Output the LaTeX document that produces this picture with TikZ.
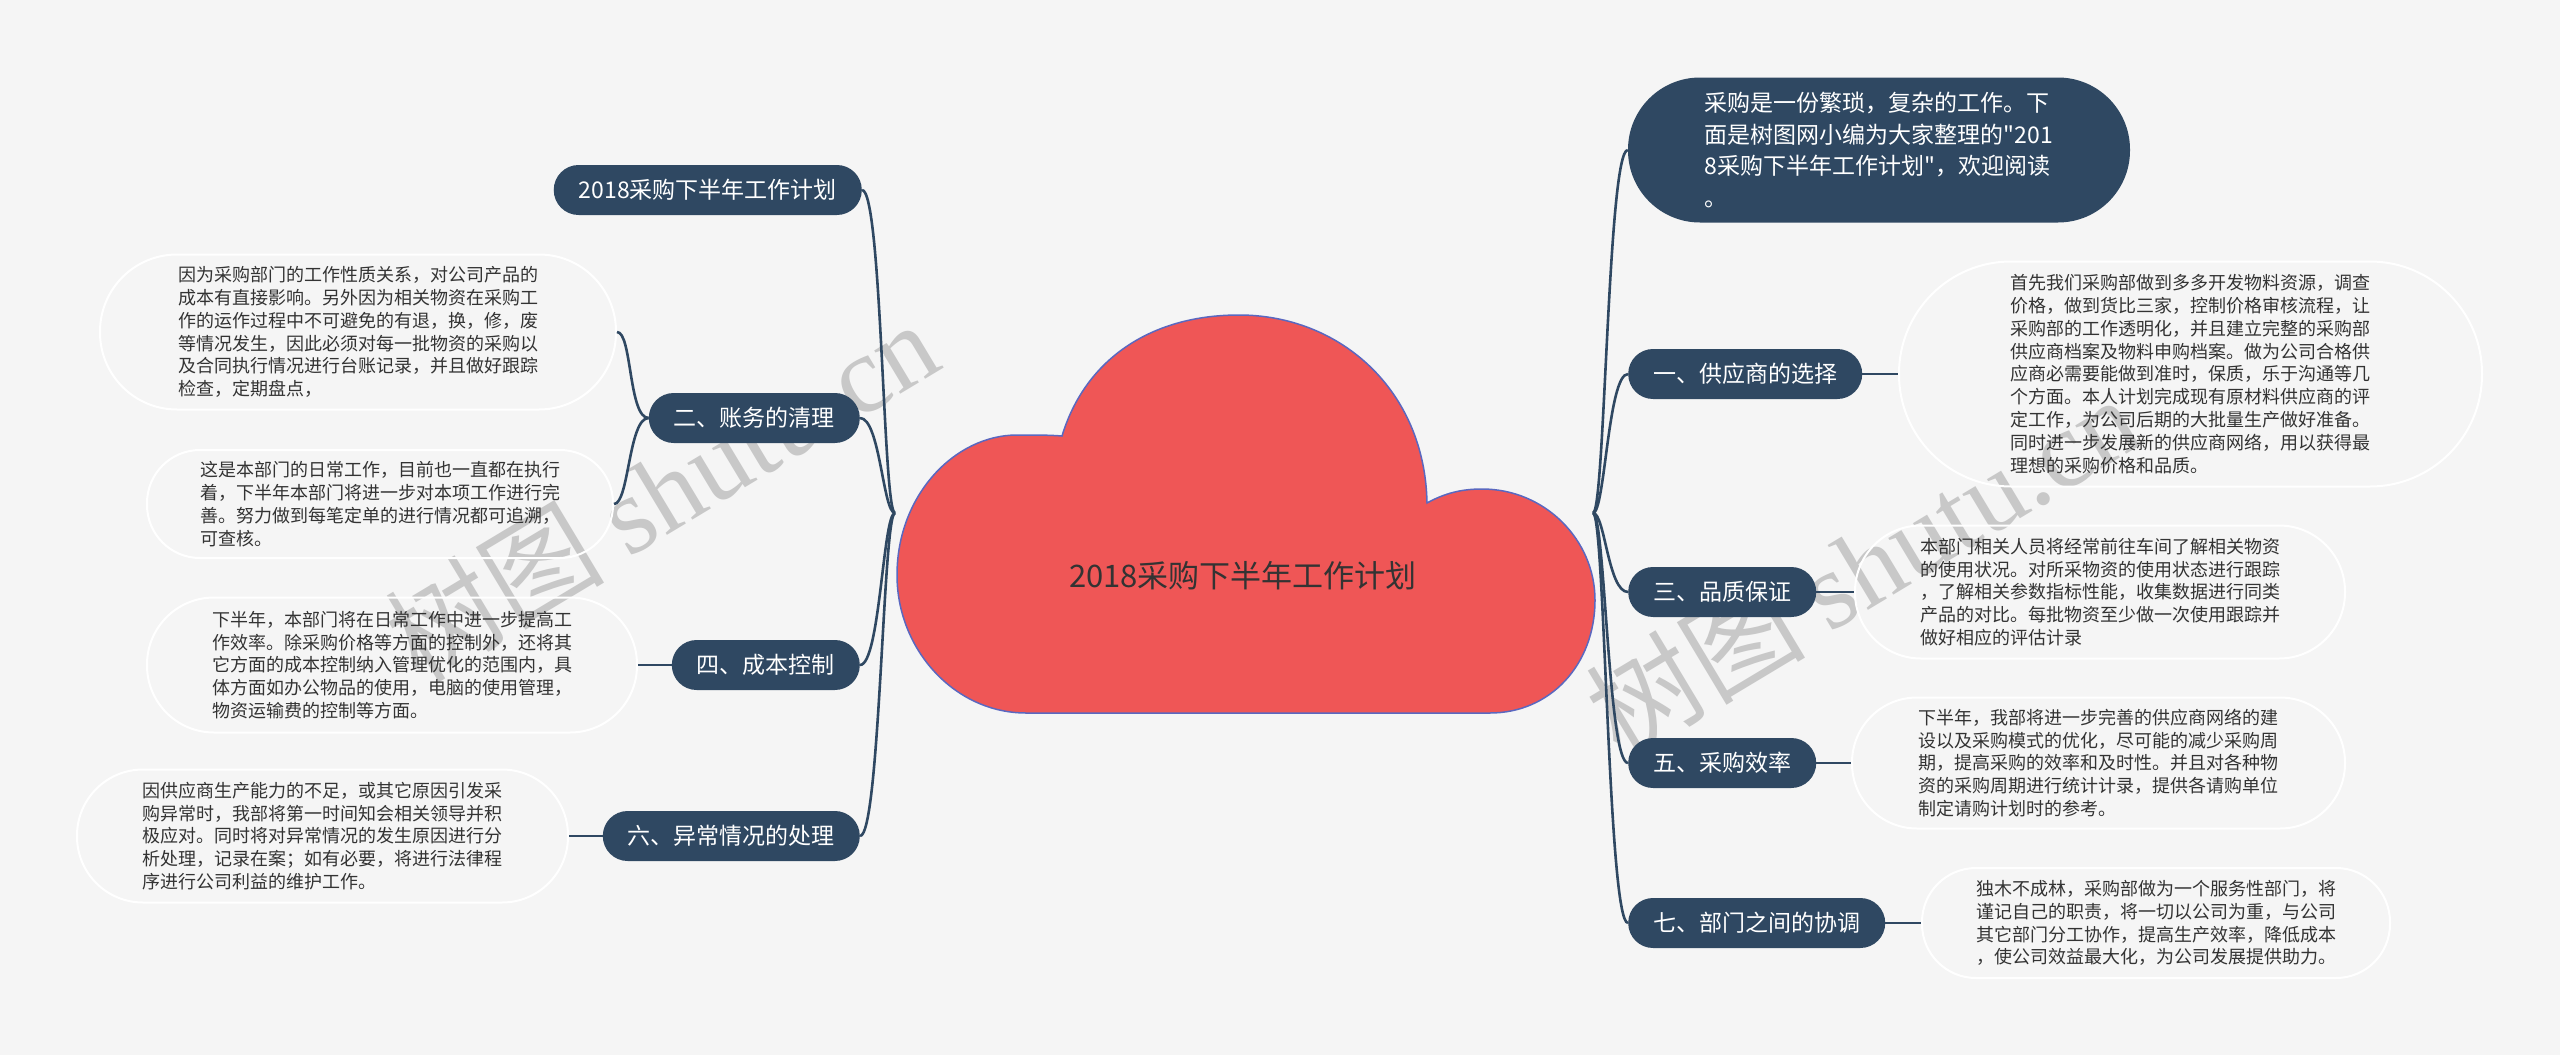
\documentclass[tikz,border=0pt]{standalone}
\usepackage{fontspec}
\newfontfamily\cjk{Noto Sans CJK SC}
\newfontfamily\wmserif{Liberation Serif}
\definecolor{bg}{HTML}{F5F5F5}
\definecolor{navy}{HTML}{2F4862}
\definecolor{cloudred}{HTML}{EF5656}
\definecolor{cloudedge}{HTML}{5A68C0}
\definecolor{txt}{HTML}{333333}
\definecolor{wmgray}{HTML}{C8C8C8}
\begin{document}
\begin{tikzpicture}[x=1pt,y=-1pt,
  topic/.style={fill=navy, text=white, rounded corners=24.9pt, minimum height=50pt, inner xsep=25pt, inner ysep=0pt, font=\cjk\fontsize{23pt}{28pt}\selectfont},
  bubble/.style={draw=white, line width=2pt, inner sep=0pt, align=left, text=txt, font=\cjk\fontsize{18pt}{22.8pt}\selectfont},
  conn/.style={draw=navy, line width=2.6pt},
  wm/.style={text=wmgray, font=\fontsize{110pt}{120pt}\selectfont, inner sep=0pt}
]
\useasboundingbox (0,0) rectangle (2560,1055);
\fill[bg] (0,0) rectangle (2560,1055);

% watermarks
\node[wm, rotate=31] (wm1) at (661,490) {\cjk 树图 \wmserif shutu.cn};
\node[wm, rotate=31] (wm2) at (1862,565) {\cjk 树图 \wmserif shutu.cn};

% central cloud
\filldraw[fill=cloudred, draw=cloudedge, line width=1.5pt]
 (1062,436) .. controls (1085,360) and (1150,315) .. (1239,315)
 .. controls (1340,315) and (1425,390) .. (1427,503)
 .. controls (1445,493) and (1462,489) .. (1482,489)
 .. controls (1545,489) and (1595,540) .. (1595,600)
 .. controls (1595,665) and (1550,713) .. (1490,713)
 -- (1026,713)
 .. controls (955,713) and (897,650) .. (897,575)
 .. controls (897,495) and (955,435) .. (1017,435)
 .. controls (1035,435) and (1050,435) .. (1062,436) -- cycle;
\node[text=txt, font=\cjk\fontsize{31pt}{36pt}\selectfont] (title) at (1243,576) {2018采购下半年工作计划};

\coordinate (hl) at (895,513);
\coordinate (hr) at (1593,513);

% topics left
\node[topic, anchor=east] (n0) at (862,190) {2018采购下半年工作计划};
\node[topic, anchor=east] (n2) at (860,418) {二、账务的清理};
\node[topic, anchor=east] (n4) at (860,665) {四、成本控制};
\node[topic, anchor=east] (n6) at (860,836) {六、异常情况的处理};

% topics right
\node[fill=navy, text=white, rounded corners=72pt, minimum width=502pt, minimum height=145pt, inner sep=0pt, align=left, font=\cjk\fontsize{23pt}{31.5pt}\selectfont] (intro) at (1879,150) {采购是一份繁琐，复杂的工作。下\\面是树图网小编为大家整理的"201\\8采购下半年工作计划"，欢迎阅读\\。};
\node[topic, anchor=west] (m1) at (1628,374) {一、供应商的选择};
\node[topic, anchor=west] (m3) at (1628,592) {三、品质保证};
\node[topic, anchor=west] (m5) at (1628,763) {五、采购效率};
\node[topic, anchor=west] (m7) at (1628,923) {七、部门之间的协调};

% bubbles left
\node[bubble, minimum width=516pt, minimum height=155pt, rounded corners=77pt] (l1) at (358,332) {因为采购部门的工作性质关系，对公司产品的\\成本有直接影响。另外因为相关物资在采购工\\作的运作过程中不可避免的有退，换，修，废\\等情况发生，因此必须对每一批物资的采购以\\及合同执行情况进行台账记录，并且做好跟踪\\检查，定期盘点，};
\node[bubble, minimum width=466pt, minimum height=108pt, rounded corners=53pt] (l2) at (380,504) {这是本部门的日常工作，目前也一直都在执行\\着，下半年本部门将进一步对本项工作进行完\\善。努力做到每笔定单的进行情况都可追溯，\\可查核。};
\node[bubble, minimum width=490pt, minimum height=135pt, rounded corners=67pt] (l3) at (392,665) {下半年，本部门将在日常工作中进一步提高工\\作效率。除采购价格等方面的控制外，还将其\\它方面的成本控制纳入管理优化的范围内，具\\体方面如办公物品的使用，电脑的使用管理，\\物资运输费的控制等方面。};
\node[bubble, minimum width=491pt, minimum height=133pt, rounded corners=66pt] (l4) at (322.5,836) {因供应商生产能力的不足，或其它原因引发采\\购异常时，我部将第一时间知会相关领导并积\\极应对。同时将对异常情况的发生原因进行分\\析处理，记录在案；如有必要，将进行法律程\\序进行公司利益的维护工作。};

% bubbles right
\node[bubble, minimum width=583pt, minimum height=225pt, rounded corners=112pt] (r1) at (2190.5,374) {首先我们采购部做到多多开发物料资源，调查\\价格，做到货比三家，控制价格审核流程，让\\采购部的工作透明化，并且建立完整的采购部\\供应商档案及物料申购档案。做为公司合格供\\应商必需要能做到准时，保质，乐于沟通等几\\个方面。本人计划完成现有原材料供应商的评\\定工作，为公司后期的大批量生产做好准备。\\同时进一步发展新的供应商网络，用以获得最\\理想的采购价格和品质。};
\node[bubble, minimum width=490pt, minimum height=133pt, rounded corners=66pt] (r2) at (2100,592) {本部门相关人员将经常前往车间了解相关物资\\的使用状况。对所采物资的使用状态进行跟踪\\，了解相关参数指标性能，收集数据进行同类\\产品的对比。每批物资至少做一次使用跟踪并\\做好相应的评估计录};
\node[bubble, minimum width=493pt, minimum height=131pt, rounded corners=65pt] (r3) at (2098.5,763) {下半年，我部将进一步完善的供应商网络的建\\设以及采购模式的优化，尽可能的减少采购周\\期，提高采购的效率和及时性。并且对各种物\\资的采购周期进行统计计录，提供各请购单位\\制定请购计划时的参考。};
\node[bubble, minimum width=468pt, minimum height=110pt, rounded corners=54pt] (r4) at (2156,923) {独木不成林，采购部做为一个服务性部门，将\\谨记自己的职责，将一切以公司为重，与公司\\其它部门分工协作，提高生产效率，降低成本\\，使公司效益最大化，为公司发展提供助力。};

% connectors
\draw[conn] (hl) .. controls +(-12,0) and +(20,0) .. (n0.east);
\draw[conn] (hl) .. controls +(-12,0) and +(20,0) .. (n2.east);
\draw[conn] (hl) .. controls +(-12,0) and +(20,0) .. (n4.east);
\draw[conn] (hl) .. controls +(-12,0) and +(20,0) .. (n6.east);
\draw[conn] (hr) .. controls +(12,0) and +(-20,0) .. (intro.west);
\draw[conn] (hr) .. controls +(12,0) and +(-20,0) .. (m1.west);
\draw[conn] (hr) .. controls +(12,0) and +(-20,0) .. (m3.west);
\draw[conn] (hr) .. controls +(12,0) and +(-20,0) .. (m5.west);
\draw[conn] (hr) .. controls +(12,0) and +(-20,0) .. (m7.west);

\draw[conn] (n2.west) .. controls +(-20,0) and +(15,0) .. (l1.east);
\draw[conn] (n2.west) .. controls +(-20,0) and +(15,0) .. (l2.east);
\draw[conn] (n4.west) -- (l3.east);
\draw[conn] (n6.west) -- (l4.east);
\draw[conn] (m1.east) -- (r1.west);
\draw[conn] (m3.east) -- (r2.west);
\draw[conn] (m5.east) -- (r3.west);
\draw[conn] (m7.east) -- (r4.west);
\end{tikzpicture}
\end{document}
